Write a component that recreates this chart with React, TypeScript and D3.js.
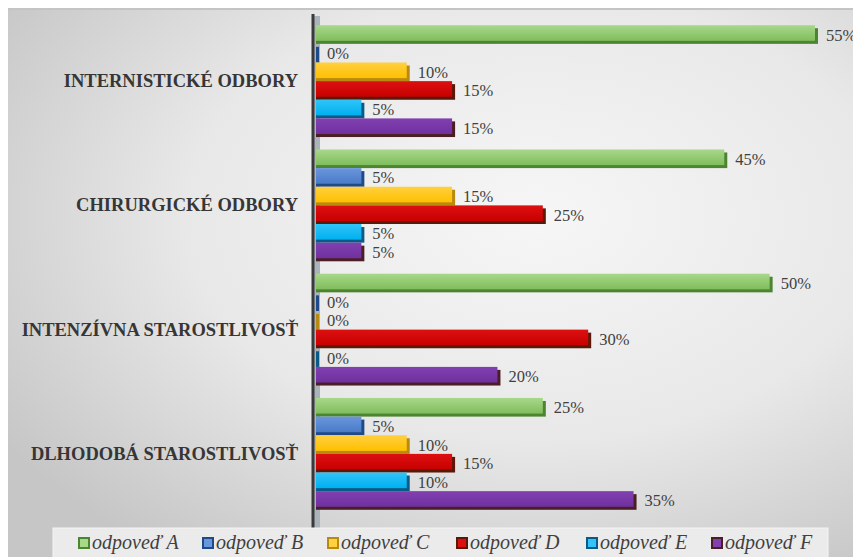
import React from "react";
import * as d3 from "d3";

const categories = [
  "INTERNISTICKÉ ODBORY",
  "CHIRURGICKÉ ODBORY",
  "INTENZÍVNA STAROSTLIVOSŤ",
  "DLHODOBÁ STAROSTLIVOSŤ",
];
const seriesNames = ["odpoveď A", "odpoveď B", "odpoveď C", "odpoveď D", "odpoveď E", "odpoveď F"];
const valuesA = [55, 45, 50, 25];
const valuesB = [0, 5, 0, 5];
const valuesC = [10, 15, 0, 10];
const valuesD = [15, 25, 30, 15];
const valuesE = [5, 5, 0, 10];
const valuesF = [15, 5, 20, 35];
const seriesValues = [valuesA, valuesB, valuesC, valuesD, valuesE, valuesF];

const faceTop = ["#a8d88a", "#6a96dc", "#ffd040", "#dd1010", "#30c4f8", "#8040b0"];
const faceColors = ["#80bd5c", "#4a7bc8", "#ffc000", "#c80000", "#00b0f0", "#7030a0"];
const depthColors = ["#4c8530", "#1f4a8a", "#b88a10", "#5a1808", "#0a5a88", "#4a1e22"];

const W = 853;
const H = 549;
const SERIF = "'Liberation Serif'";

export default function App() {
  const y0 = d3.scaleBand<string>().domain(categories).range([11, 508]).paddingInner(0.1).paddingOuter(0.05);
  const y1 = d3.scaleBand<number>().domain(d3.range(seriesNames.length)).range([0, y0.bandwidth()]);
  const x = d3.scaleLinear().domain([0, 55]).range([308, 807]);
  const depth = 3;
  const legendX = [71, 195, 320, 449, 579, 704];

  return (
    <svg width={W} height={H} style={{ display: "block" }}>
      <defs>
        <radialGradient id="bg" cx="62%" cy="38%" r="75%">
          <stop offset="0%" stopColor="#f6f6f6" />
          <stop offset="55%" stopColor="#e8e8e8" />
          <stop offset="100%" stopColor="#c6c6c6" />
        </radialGradient>
        {faceColors.map((c, i) => (
          <linearGradient key={i} id={`face${i}`} x1="0" y1="0" x2="0" y2="1">
            <stop offset="0%" stopColor={faceTop[i]} />
            <stop offset="100%" stopColor={c} />
          </linearGradient>
        ))}
      </defs>
      <rect x={0} y={0} width={W} height={H} fill="url(#bg)" />
      <rect x={0} y={0} width={W} height={2} fill="#c4c4c4" />
      <rect x={306} y={8} width={6} height={515} fill="#aab2ba" />
      {categories.map((cat, ci) => (
        <g key={cat}>
          {seriesValues.map((vals, si) => {
            const v = vals[ci];
            const by = (y0(cat) as number) + (y1(si) as number);
            const bh = y1.bandwidth();
            const x0 = x(0);
            const x1 = x(v);
            return (
              <g key={si}>
                <rect x={x0} y={by + depth} width={x1 - x0 + depth} height={bh - depth} fill={depthColors[si]} />
                {v > 0 && (
                  <rect x={x0} y={by} width={x1 - x0} height={bh - depth} fill={`url(#face${si})`} />
                )}
                <text
                  x={x1 + depth + 8}
                  y={by + bh / 2 + 6}
                  style={{ fontFamily: SERIF, fontSize: "16.5px" }}
                  fill="#404040"
                >
                  {`${v}%`}
                </text>
              </g>
            );
          })}
          <text
            x={290}
            y={(y0(cat) as number) + y0.bandwidth() / 2 + 6}
            textAnchor="end"
            style={{ fontFamily: SERIF, fontWeight: "bold", fontSize: "18.5px" }}
            fill="#363636"
          >
            {cat}
          </text>
        </g>
      ))}
      <line x1={305} x2={305} y1={6} y2={522} stroke="#3a3a3a" strokeWidth={3} />
      <rect x={45} y={520} width={775} height={40} fill="#ebebeb" stroke="#f4f4f4" strokeWidth={1} />
      {seriesNames.map((name, i) => (
        <g key={name} transform={`translate(${legendX[i]},0)`}>
          <rect x={0} y={530} width={10} height={10} fill={faceTop[i]} stroke={depthColors[i]} strokeWidth={2} />
          <text
            x={13}
            y={541}
            style={{ fontFamily: SERIF, fontStyle: "italic", fontSize: "20px" }}
            fill="#404040"
          >
            {name}
          </text>
        </g>
      ))}
    </svg>
  );
}
